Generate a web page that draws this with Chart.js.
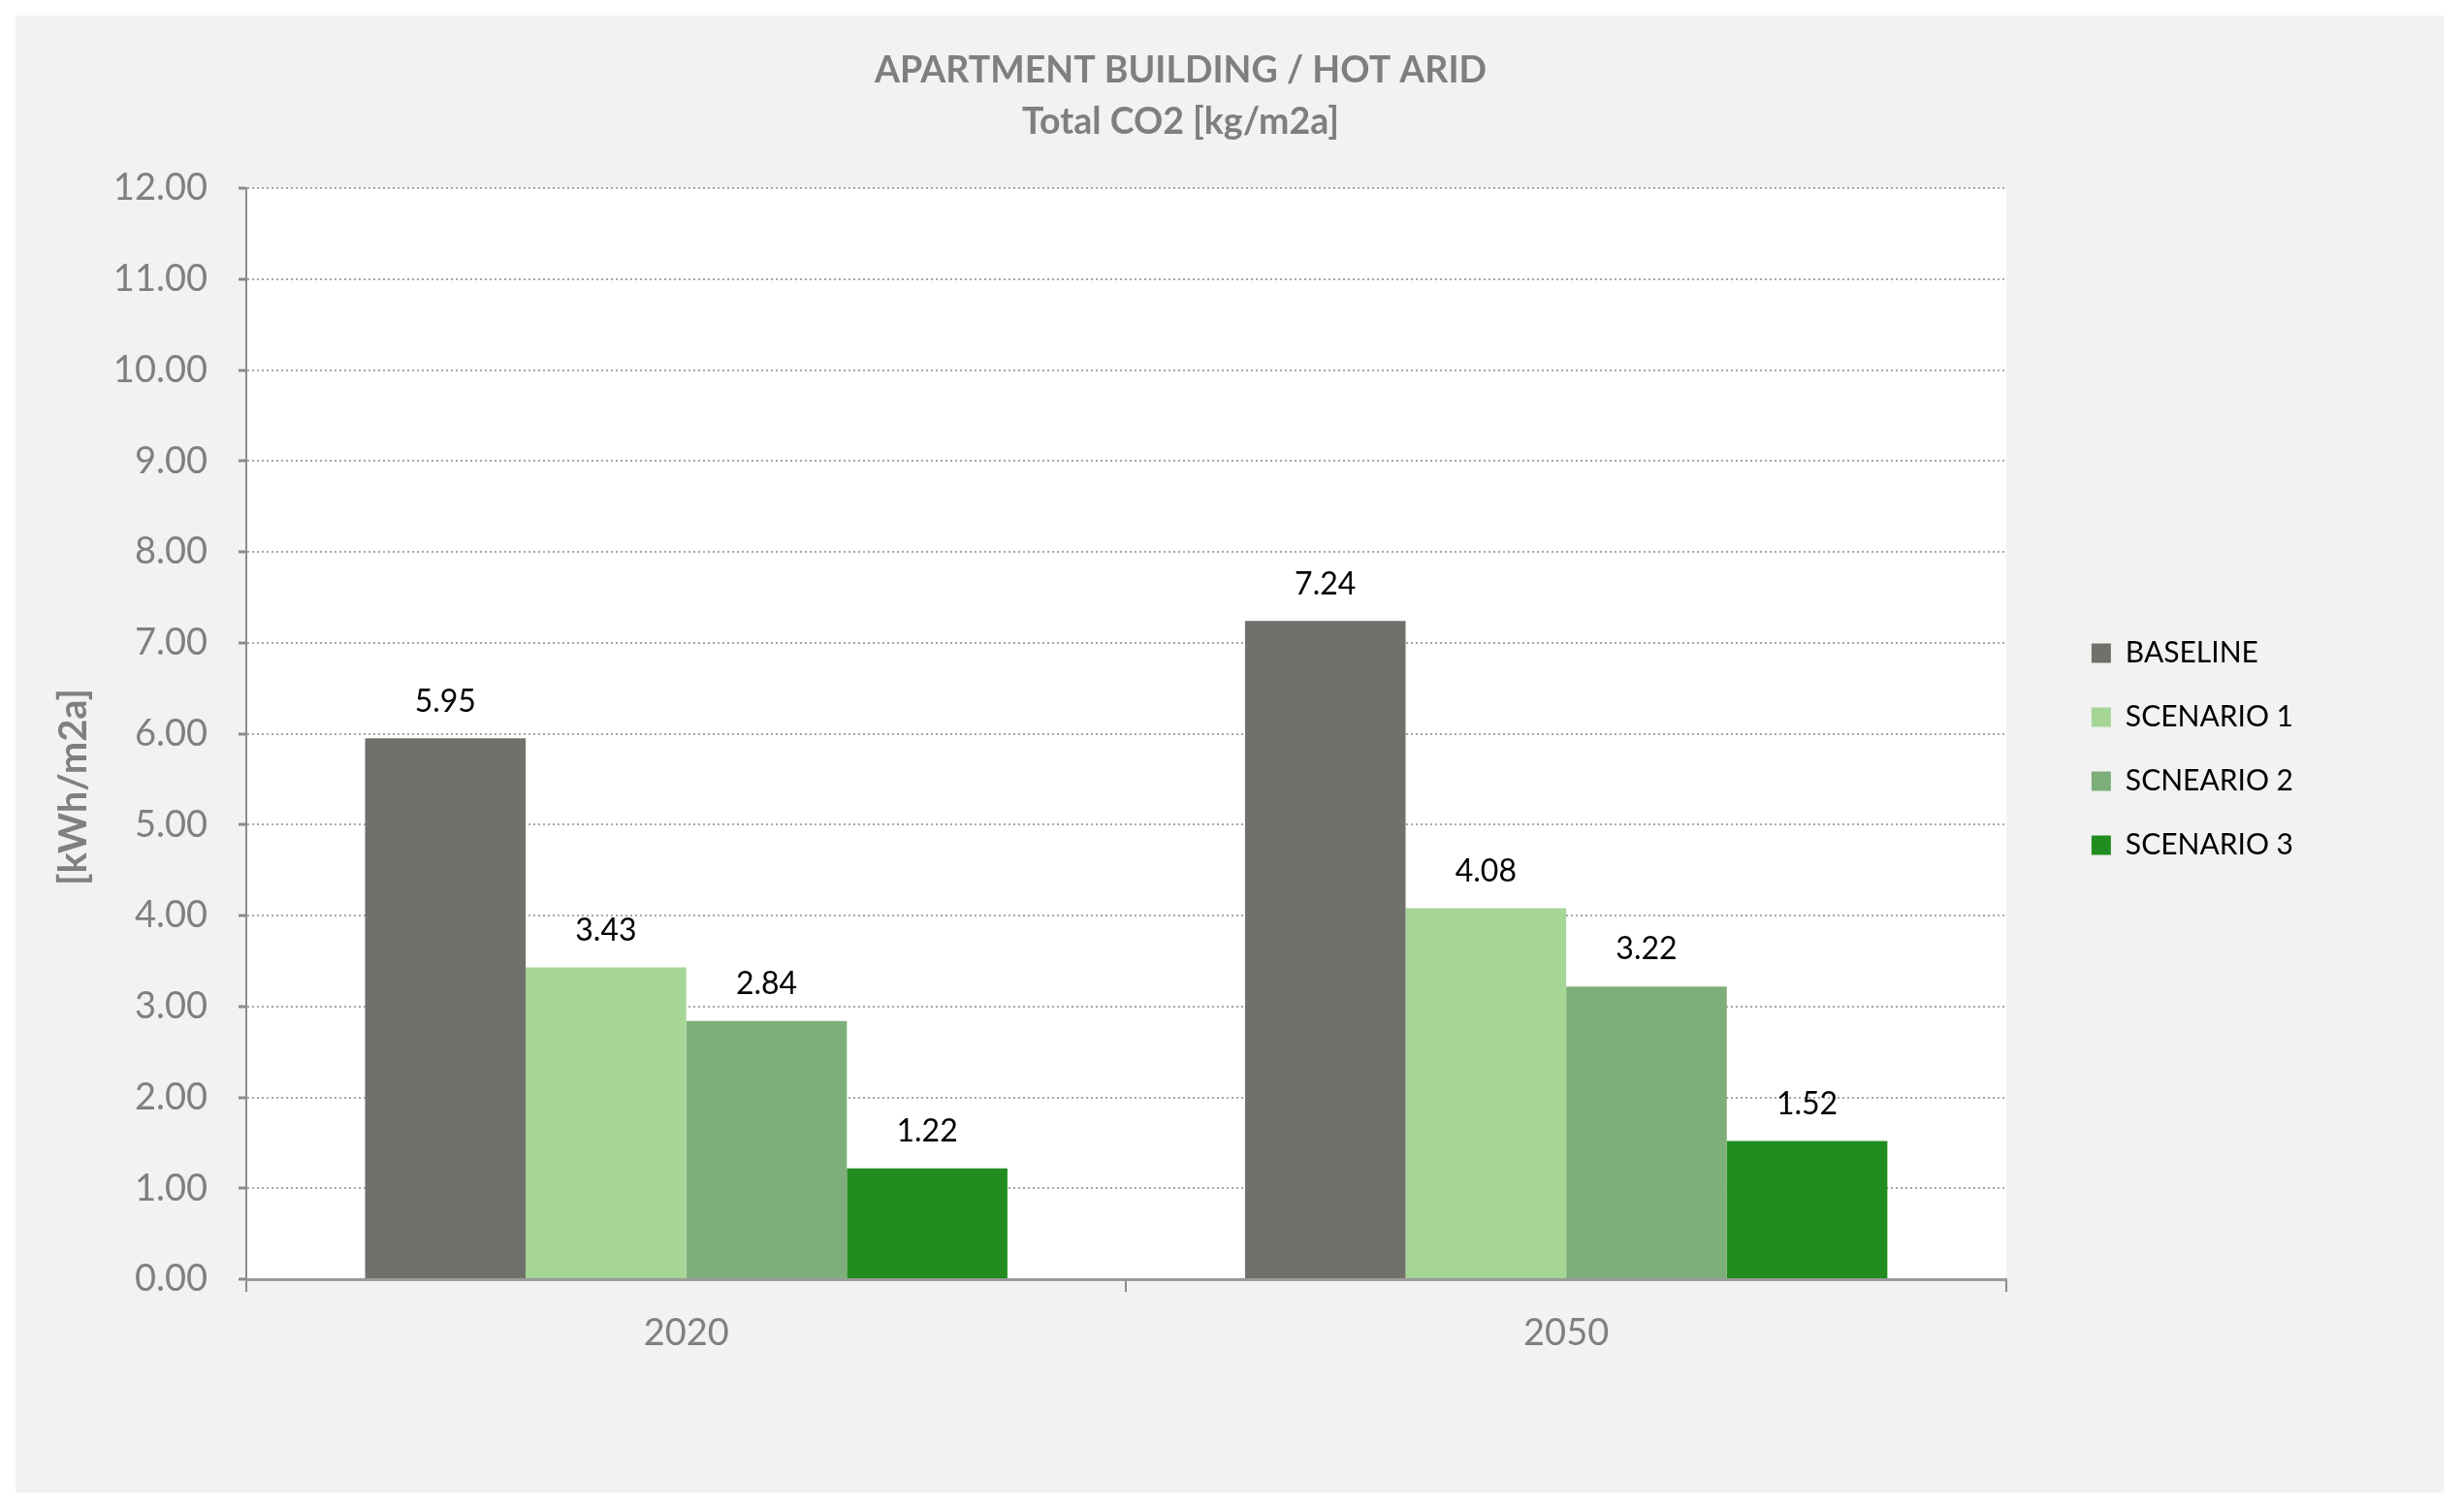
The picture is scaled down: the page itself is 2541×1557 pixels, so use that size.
<!DOCTYPE html>
<html>
<head>
<meta charset="utf-8">
<script src="https://cdn.jsdelivr.net/npm/chart.js@4/dist/chart.umd.min.js"></script>
<style>
  html, body { margin: 0; padding: 0; background: #fff; }
  #wrap { width: 2541px; height: 1557px; }
</style>
</head>
<body>
<div id="wrap"><canvas id="co2Chart"></canvas></div>
<script>
const years = ["2020", "2050"];
const seriesNames = ["BASELINE", "SCENARIO 1", "SCNEARIO 2", "SCENARIO 3"];
const baseline = [5.95, 7.24];
const scenario1 = [3.43, 4.08];
const scenario2 = [2.84, 3.22];
const scenario3 = [1.22, 1.52];
const titleLines = ["APARTMENT BUILDING / HOT ARID", "Total CO2 [kg/m2a]"];
const yTitle = "[kWh/m2a]";

const colors = ["#71716c", "#a6d696", "#7eae79", "#218c20"];
const grey = "#808080";

// grey frame and white plot area behind everything
const panel = {
  id: "panel",
  beforeDraw(chart) {
    const { ctx, chartArea: a } = chart;
    ctx.save();
    ctx.fillStyle = "#ffffff";
    ctx.fillRect(0, 0, chart.width, chart.height);
    ctx.fillStyle = "#f2f2f2";
    ctx.fillRect(16, 16, chart.width - 37, chart.height - 34);
    ctx.fillStyle = "#ffffff";
    ctx.fillRect(a.left, a.top, a.right - a.left, a.bottom - a.top);
    ctx.restore();
  }
};

// value on top of each bar
const valueLabels = {
  id: "valueLabels",
  afterDatasetsDraw(chart) {
    const ctx = chart.ctx;
    ctx.save();
    ctx.font = "32px Lato";
    ctx.fillStyle = "#000";
    ctx.textAlign = "center";
    ctx.textBaseline = "middle";
    chart.data.datasets.forEach((ds, i) => {
      chart.getDatasetMeta(i).data.forEach((bar, j) => {
        ctx.fillText(ds.data[j].toFixed(2), bar.x, bar.y - 38);
      });
    });
    ctx.restore();
  }
};

// nudge legend and title to where the original has them
const shiftBoxes = {
  id: "shiftBoxes",
  afterLayout(chart) {
    const lg = chart.legend;
    lg.left += 52; lg.right += 52;
    lg.top -= 6; lg.bottom -= 6;
    const tb = chart.titleBlock;
    tb.left += 56; tb.right += 56;
  }
};

const datasets = [baseline, scenario1, scenario2, scenario3].map((values, i) => ({
  label: seriesNames[i],
  data: values,
  backgroundColor: colors[i],
  borderWidth: 0,
  categoryPercentage: 0.73,
  barPercentage: 1.0
}));

new Chart(document.getElementById("co2Chart"), {
  type: "bar",
  data: { labels: years, datasets: datasets },
  plugins: [panel, valueLabels, shiftBoxes],
  options: {
    responsive: true,
    maintainAspectRatio: false,
    animation: false,
    devicePixelRatio: 1,
    layout: { padding: { left: 0, right: 218, top: 0, bottom: 0 } },
    plugins: {
      tooltip: { enabled: false },
      title: {
        display: true,
        text: titleLines,
        color: "#7f7f7f",
        font: { family: "Lato", size: 37.5, weight: "bold", lineHeight: 1.4 },
        padding: { top: 47, bottom: 42 }
      },
      legend: {
        position: "right",
        labels: {
          boxWidth: 20,
          boxHeight: 20,
          padding: 36,
          color: "#000",
          font: { family: "Lato", size: 30 }
        }
      }
    },
    scales: {
      x: {
        grid: { drawOnChartArea: false, offset: true, tickLength: 13, color: "#8c8c8c", lineWidth: 2 },
        border: { color: "#9a9a9a", width: 3 },
        ticks: { color: grey, font: { family: "Lato", size: 38 }, padding: 20 },
        afterFit(scale) { scale.height = 238; }
      },
      y: {
        min: 0,
        max: 12,
        ticks: {
          stepSize: 1,
          color: grey,
          font: { family: "Lato", size: 38 },
          padding: 32,
          callback: (v) => v.toFixed(2)
        },
        grid: { color: "#a6a6a6", lineWidth: 2, tickLength: 8, tickColor: "#8c8c8c", tickWidth: 3 },
        border: { color: "#8c8c8c", width: 2, dash: [2, 3] },
        title: {
          display: true,
          text: yTitle + "\u2003\u2003\u2003\u2002",
          color: grey,
          font: { family: "Lato", size: 40, weight: "bold" },
          padding: { top: 52, bottom: 0 }
        },
        afterFit(scale) { scale.width = 254; }
      }
    }
  }
});
</script>
</body>
</html>
